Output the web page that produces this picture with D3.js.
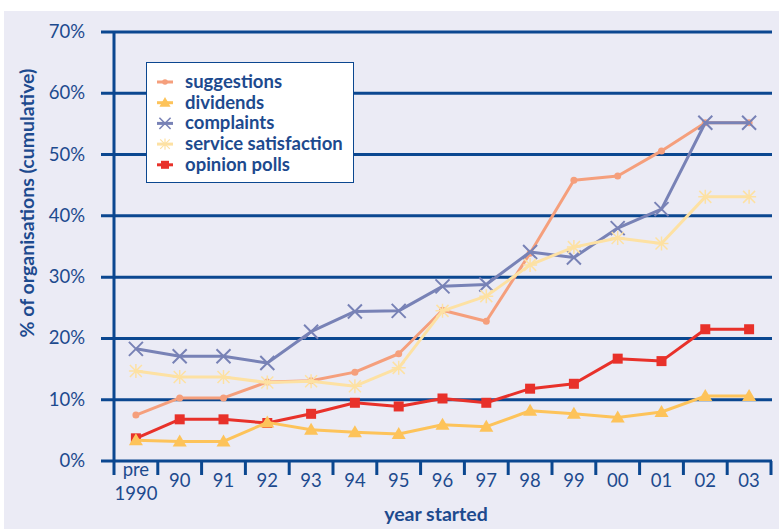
<!DOCTYPE html>
<html>
<head>
<meta charset="utf-8">
<script src="https://cdn.jsdelivr.net/npm/d3@7"></script>
<style>
  body { margin: 0; background: #fff; }
  text { font-family: Lato, "Open Sans", sans-serif; }
</style>
</head>
<body>
<script>
var width = 779,
    height = 529;

var years = ["pre 1990", "90", "91", "92", "93", "94", "95", "96", "97", "98", "99", "00", "01", "02", "03"];
var yTicks = [0, 10, 20, 30, 40, 50, 60, 70];

var suggestions = [7.5, 10.3, 10.3, 12.9, 13.1, 14.5, 17.5, 24.6, 22.8, 33.9, 45.8, 46.5, 50.6, 55.2, 55.2];
var dividends = [3.4, 3.2, 3.2, 6.3, 5.1, 4.7, 4.4, 5.9, 5.6, 8.2, 7.7, 7.1, 8.0, 10.6, 10.6];
var complaints = [18.3, 17.1, 17.1, 16.0, 21.1, 24.4, 24.5, 28.5, 28.8, 34.1, 33.2, 38.0, 41.1, 55.2, 55.2];
var serviceSatisfaction = [14.7, 13.7, 13.7, 12.8, 13.0, 12.2, 15.2, 24.5, 26.9, 32.0, 34.9, 36.4, 35.5, 43.1, 43.1];
var opinionPolls = [3.7, 6.8, 6.8, 6.2, 7.7, 9.5, 8.9, 10.2, 9.5, 11.8, 12.6, 16.7, 16.3, 21.5, 21.5];

var series = [
  { name: "suggestions", values: suggestions, color: "#f59f7c", marker: "circle" },
  { name: "dividends", values: dividends, color: "#fdc35a", marker: "triangle" },
  { name: "complaints", values: complaints, color: "#7882b6", marker: "cross" },
  { name: "service satisfaction", values: serviceSatisfaction, color: "#fde1a3", marker: "star" },
  { name: "opinion polls", values: opinionPolls, color: "#e8312a", marker: "square" }
];
// drawing order (later on top)
var drawOrder = [4, 0, 1, 2, 3];

var axisColor = "#0b4790",
    textColor = "#1d4a8e";

var svg = d3.select("body").append("svg")
    .attr("width", width)
    .attr("height", height);

svg.append("rect")
    .attr("x", 4).attr("y", 11)
    .attr("width", width - 4).attr("height", height - 11)
    .attr("fill", "#ebebf5");

var x = d3.scaleBand()
    .domain(years)
    .range([114, 771]);

var y = d3.scaleLinear()
    .domain([0, 70])
    .range([461, 32]);

// gridlines
svg.selectAll("line.grid")
  .data(yTicks)
  .enter().append("line")
    .attr("class", "grid")
    .attr("x1", 101).attr("x2", 772)
    .attr("y1", function (d) { return y(d); })
    .attr("y2", function (d) { return y(d); })
    .attr("stroke", axisColor)
    .attr("stroke-width", 3);

// y axis line
svg.append("line")
    .attr("x1", 114).attr("x2", 114)
    .attr("y1", y(70) - 1).attr("y2", 475)
    .attr("stroke", axisColor)
    .attr("stroke-width", 3);

// x ticks at band boundaries
svg.selectAll("line.xtick")
  .data(years)
  .enter().append("line")
    .attr("class", "xtick")
    .attr("x1", function (d) { return x(d) + x.bandwidth(); })
    .attr("x2", function (d) { return x(d) + x.bandwidth(); })
    .attr("y1", 461).attr("y2", 475)
    .attr("stroke", axisColor)
    .attr("stroke-width", 3);

// y tick labels
svg.selectAll("text.ytick")
  .data(yTicks)
  .enter().append("text")
    .attr("class", "ytick")
    .attr("x", 85)
    .attr("y", function (d) { return y(d) + 6; })
    .attr("text-anchor", "end")
    .attr("fill", textColor)
    .attr("font-size", 18.5)
    .text(function (d) { return d + "%"; });

// x tick labels
var xl = svg.selectAll("text.xlabel")
  .data(years)
  .enter().append("text")
    .attr("class", "xlabel")
    .attr("text-anchor", "middle")
    .attr("fill", textColor)
    .attr("font-size", 18.5);

xl.each(function (d) {
  var t = d3.select(this);
  var cx = x(d) + x.bandwidth() / 2;
  var parts = d.split(" ");
  if (parts.length > 1) {
    t.append("tspan").attr("x", cx).attr("y", 476).text(parts[0]);
    t.append("tspan").attr("x", cx).attr("y", 500).text(parts[1]);
  } else {
    t.attr("x", cx).attr("y", 487).text(d);
  }
});

// axis titles
svg.append("text")
    .attr("transform", "translate(34,203) rotate(-90)")
    .attr("text-anchor", "middle")
    .attr("fill", textColor)
    .attr("font-size", 19.5)
    .attr("font-weight", "bold")
    .text("% of organisations (cumulative)");

svg.append("text")
    .attr("x", 436)
    .attr("y", 521)
    .attr("text-anchor", "middle")
    .attr("fill", textColor)
    .attr("font-size", 19.5)
    .attr("font-weight", "bold")
    .text("year started");

function drawMarker(g, type, color) {
  if (type == "circle") {
    g.append("circle").attr("r", 3.5).attr("fill", color);
  } else if (type == "triangle") {
    g.append("path").attr("d", "M0,-7L7,5L-7,5Z").attr("fill", color);
  } else if (type == "square") {
    g.append("rect").attr("x", -5).attr("y", -5).attr("width", 10).attr("height", 10).attr("fill", color);
  } else if (type == "cross") {
    g.append("path").attr("d", "M-7,-7L7,7M-7,7L7,-7")
      .attr("stroke", color).attr("stroke-width", 2).attr("fill", "none");
  } else if (type == "star") {
    g.append("path").attr("d", "M-6,-6L6,6M-6,6L6,-6M0,-7L0,7M-7,0L7,0")
      .attr("stroke", color).attr("stroke-width", 1.5).attr("fill", "none");
  }
}

var line = d3.line()
    .x(function (d, i) { return x(years[i]) + x.bandwidth() / 2; })
    .y(function (d) { return y(d); });

drawOrder.forEach(function (k) {
  var s = series[k];
  svg.append("path")
      .datum(s.values)
      .attr("d", line)
      .attr("fill", "none")
      .attr("stroke", s.color)
      .attr("stroke-width", 3)
      .attr("stroke-linejoin", "round");

  svg.selectAll("g.m" + k)
    .data(s.values)
    .enter().append("g")
      .attr("class", "m" + k)
      .attr("transform", function (d, i) {
        return "translate(" + (x(years[i]) + x.bandwidth() / 2) + "," + y(d) + ")";
      })
      .each(function () { drawMarker(d3.select(this), s.marker, s.color); });
});

// legend
var legend = svg.append("g");
legend.append("rect")
    .attr("x", 146.5).attr("y", 62.5)
    .attr("width", 207).attr("height", 120)
    .attr("fill", "#fff")
    .attr("stroke", axisColor)
    .attr("stroke-width", 1);

series.forEach(function (s, i) {
  var ly = 82 + i * 20.7;
  var g = legend.append("g").attr("transform", "translate(165," + ly + ")");
  g.append("line").attr("x1", -8).attr("x2", 8)
      .attr("stroke", s.color).attr("stroke-width", 3);
  var mg = g.append("g").attr("transform", "scale(0.8)");
  drawMarker(mg, s.marker, s.color);
  legend.append("text")
      .attr("x", 185)
      .attr("y", ly + 6)
      .attr("fill", textColor)
      .attr("font-size", 18.5)
      .attr("font-weight", "bold")
      .text(s.name);
});
</script>
</body>
</html>
